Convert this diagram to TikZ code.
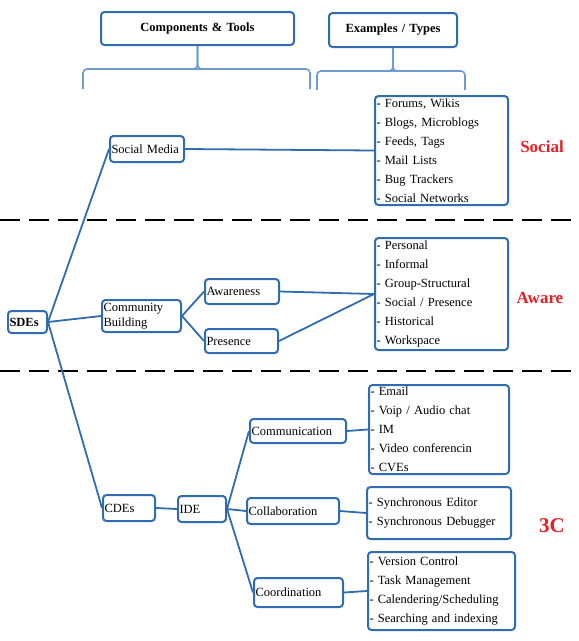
\documentclass[tikz,border=0pt]{standalone}
\usepackage{fontspec}
\setmainfont{Liberation Serif}
\usetikzlibrary{positioning}

\definecolor{edge}{RGB}{47,108,176}
\definecolor{bracecol}{RGB}{108,156,210}
\definecolor{tagred}{RGB}{228,32,40}

\begin{document}
\begin{tikzpicture}[x=1pt, y=-1pt, font=\fontsize{12.5}{19}\selectfont]

  \tikzstyle{module}=[rounded corners=3.5pt, draw=edge, line width=2pt, align=left, anchor=north west, inner xsep=1.5pt, inner ysep=0.5pt]
  \tikzstyle{head}=[module, align=center, font=\fontsize{12.5}{19}\selectfont\bfseries]
  \tikzstyle{link}=[draw=edge, line width=1.8pt]
  \tikzstyle{brace}=[draw=bracecol, line width=1.6pt, rounded corners=4pt]
  \tikzstyle{divider}=[line width=2.2pt, dash pattern=on 20pt off 9pt]
  \tikzstyle{tag}=[text=tagred, font=\fontsize{17}{20}\selectfont\bfseries]

  \useasboundingbox (0,0) rectangle (579,641);

  % column headers and their braces
  \node [head, text width=190, minimum height=33] (CT) at (100,11) {Components \& Tools};
  \node [head, text width=125, minimum height=34] (ET) at (328,12) {Examples / Types};

  \draw [brace] (83,89) |- (197,69) -| (310,89);
  \draw [brace] (193,69) -| (CT.south);
  \draw [brace] (201,69) -| (CT.south);
  \draw [brace] (317,90) |- (392,71) -| (465,90);
  \draw [brace] (388,71) -| (ET.south);
  \draw [brace] (396,71) -| (ET.south);

  % band separators
  \draw [divider] (0,220) -- (579,220);
  \draw [divider] (0,371) -- (579,371);

  % components
  \node [module, font=\fontsize{12.5}{19}\selectfont\bfseries, text width=36, minimum height=22] (SDE) at (7,310) {SDEs};
  \node [module, text width=71, minimum height=26] (SM) at (109,135) {Social Media};
  \node [module, font=\fontsize{12.5}{15}\selectfont, text width=76, minimum height=32] (CB) at (101,299) {Community\\Building};
  \node [module, text width=71, minimum height=25] (AW) at (204,278) {Awareness};
  \node [module, text width=70, minimum height=24] (PR) at (204,328) {Presence};
  \node [module, text width=49, minimum height=26] (CDE) at (102,494) {CDEs};
  \node [module, text width=45, minimum height=26] (IDE) at (177,495) {IDE};
  \node [module, text width=93, minimum height=24] (COM) at (249,418) {Communication};
  \node [module, text width=89, minimum height=26] (COL) at (246,497) {Collaboration};
  \node [module, text width=86, minimum height=29] (COO) at (253,577) {Coordination};

  % examples / types
  \node [module, text width=130, minimum height=109] (L-SM) at (374,95) {
    - Forums, Wikis\\ - Blogs, Microblogs\\ - Feeds, Tags\\
    - Mail Lists\\ - Bug Trackers\\ - Social Networks
  };
  \node [module, text width=130, minimum height=112] (L-AW) at (374,237) {
    - Personal\\ - Informal\\ - Group-Structural\\
    - Social / Presence\\ - Historical\\ - Workspace
  };
  \node [module, text width=137, minimum height=89] (L-COM) at (368,384) {
    - Email\\ - Voip / Audio chat\\ - IM\\ - Video conferencin\\ - CVEs
  };
  \node [module, text width=141, minimum height=52] (L-COL) at (366,486) {
    - Synchronous Editor\\ - Synchronous Debugger
  };
  \node [module, text width=144, minimum height=78] (L-COO) at (367,551) {
    - Version Control\\ - Task Management\\
    - Calendering/Scheduling\\ - Searching and indexing
  };

  \node [tag] (T-S) at (542,147) {Social};
  \node [tag] (T-A) at (540,298) {Aware};
  \node [tag, font=\fontsize{21}{24}\selectfont\bfseries] (T-C) at (552,526) {3C};

  \draw [link] (SDE.east) -- (SM.west);
  \draw [link] (SDE.east) -- (CB.west);
  \draw [link] (SDE.east) -- (CDE.west);
  \draw [link] (SM.east) -- (L-SM.west);
  \draw [link] (CB.east) -- (AW.west);
  \draw [link] (CB.east) -- (PR.west);
  \draw [link] (AW.east) -- (L-AW.west);
  \draw [link] (PR.east) -- (L-AW.west);
  \draw [link] (CDE.east) -- (IDE.west);
  \draw [link] (IDE.east) -- (COM.west);
  \draw [link] (IDE.east) -- (COL.west);
  \draw [link] (IDE.east) -- (COO.west);
  \draw [link] (COM.east) -- (L-COM.west);
  \draw [link] (COL.east) -- (L-COL.west);
  \draw [link] (COO.east) -- (L-COO.west);
\end{tikzpicture}
\end{document}
